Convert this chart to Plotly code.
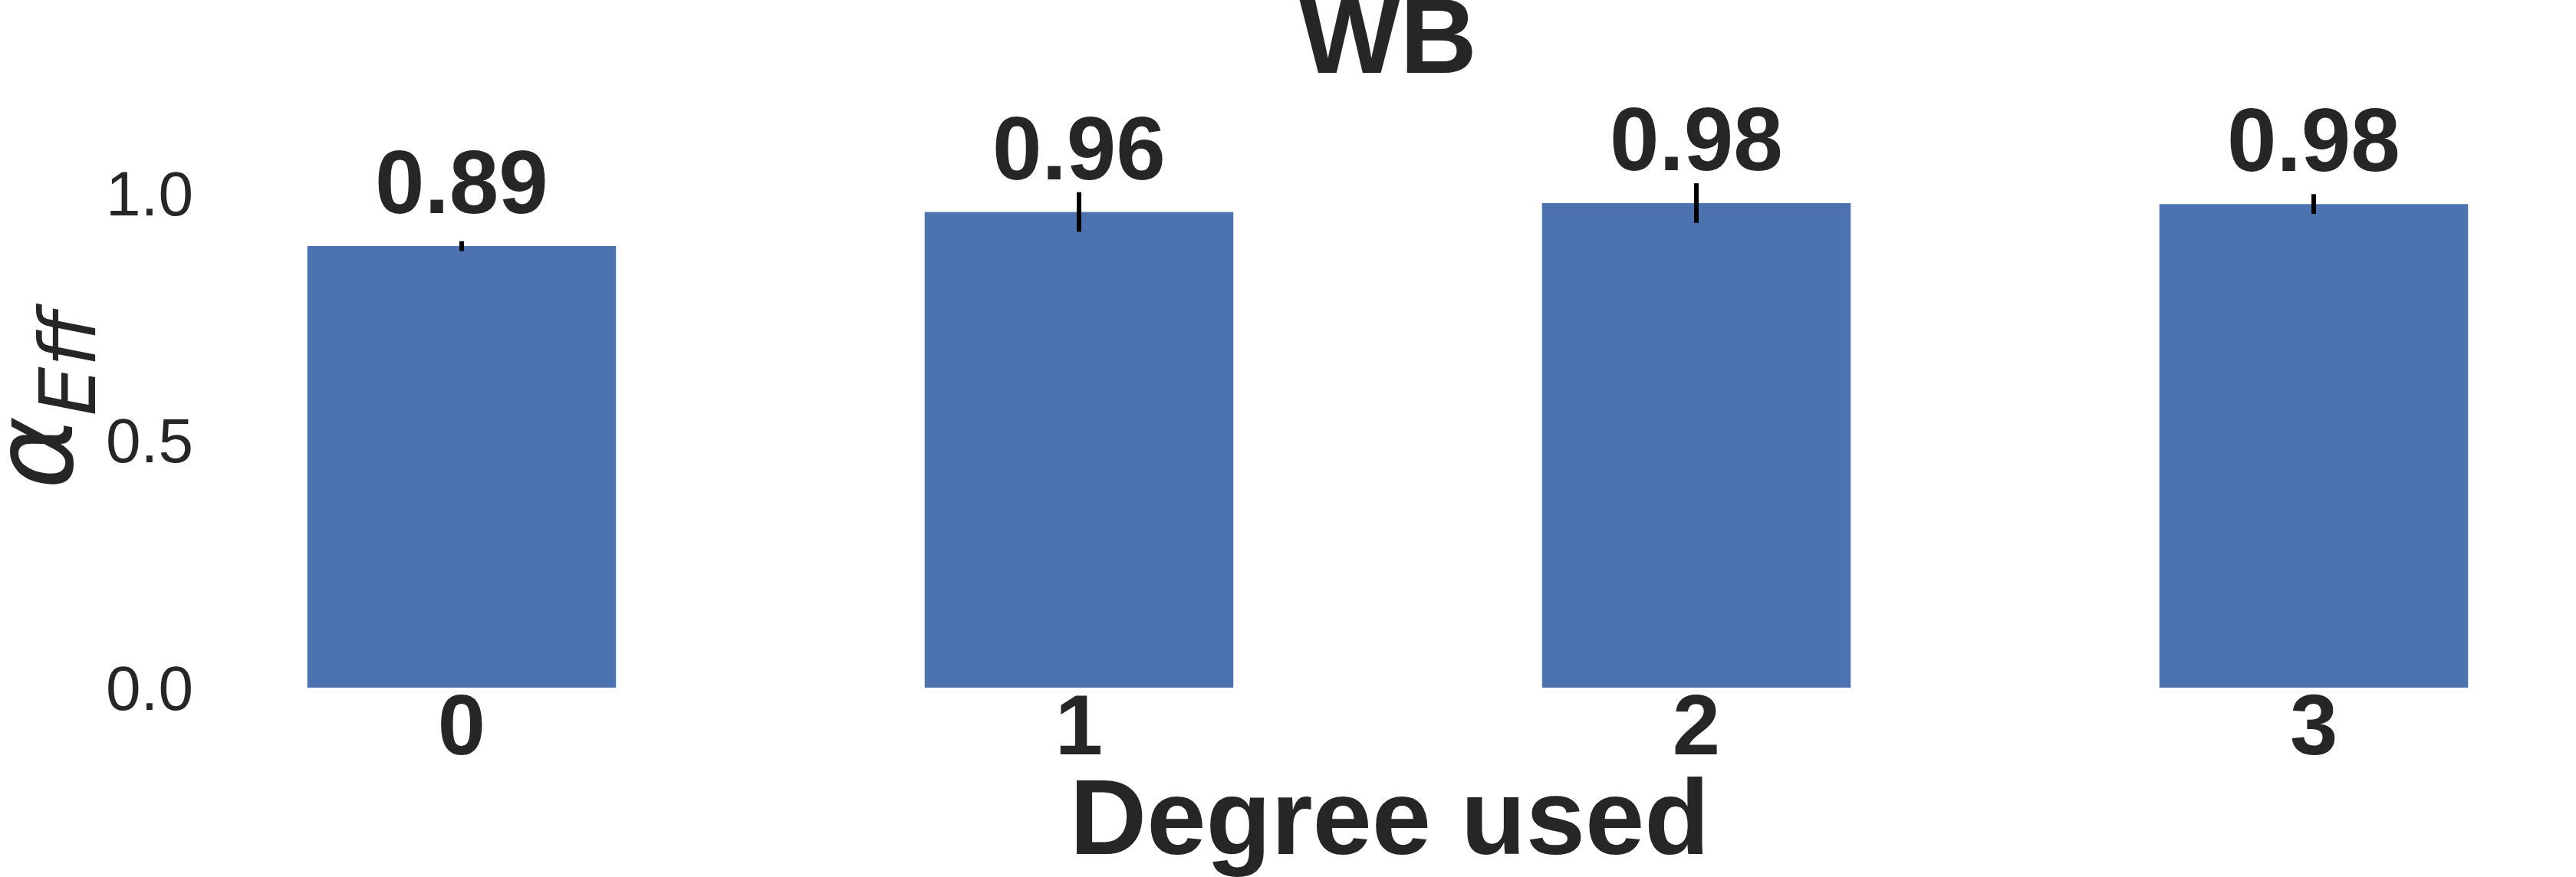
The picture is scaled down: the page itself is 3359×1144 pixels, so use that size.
import plotly.graph_objects as go

# ---- data ----
degrees = ["0", "1", "2", "3"]
alpha_eff = [0.893, 0.962, 0.980, 0.978]
alpha_err = [0.010, 0.040, 0.040, 0.020]
value_labels = ["0.89", "0.96", "0.98", "0.98"]
y_ticks = [0.0, 0.5, 1.0]
y_tick_labels = ["0.0", "0.5", "1.0"]

title_text = "WB"
x_title = "Degree used"
y_title = "<i>α</i><sub><i>Eff</i></sub>"

BAR_COLOR = "#4C72B0"
TEXT = "#262626"
FONT = "Arial, 'Liberation Sans', sans-serif"

fig = go.Figure()
fig.add_trace(go.Bar(
    x=degrees, y=alpha_eff,
    marker=dict(color=BAR_COLOR, line=dict(width=0)),
    width=0.5,
    error_y=dict(type="data", array=alpha_err, color="black", thickness=6, width=0),
    hoverinfo="skip",
))

for x, y, t in zip(degrees, alpha_eff, value_labels):
    fig.add_annotation(
        x=x, y=y, xref="x", yref="y", text=f"<b>{t}</b>", showarrow=False,
        yanchor="bottom", xanchor="center", yshift=16,
        font=dict(family=FONT, size=116, color=TEXT),
    )

fig.add_annotation(
    x=-0.0685, y=0.545, xref="paper", yref="paper", text=y_title, showarrow=False,
    textangle=-90, xanchor="center", yanchor="middle",
    font=dict(family="DejaVu Sans", size=145, color=TEXT),
)

fig.update_layout(
    width=3359, height=1144,
    margin=dict(l=265, r=0, t=200, b=247, pad=0),
    paper_bgcolor="white", plot_bgcolor="white",
    showlegend=False,
    title=dict(text=f"<b>{title_text}</b>", x=0.4994, xref="paper", xanchor="center",
               y=0.9593, yref="container", yanchor="middle",
               font=dict(family=FONT, size=139, color=TEXT)),
    bargap=0.5,
)
fig.update_xaxes(
    type="category", range=[-0.4186, 3.4248], automargin=False,
    showgrid=False, zeroline=False, showline=False, ticks="",
    tickfont=dict(family=FONT, size=112, color=TEXT, weight="bold"),
    ticklabelstandoff=-26,
    title=dict(text=f"<b>{x_title}</b>", font=dict(family=FONT, size=139, color=TEXT), standoff=0),
)
fig.update_yaxes(
    range=[0, 1.0806], tickvals=y_ticks, ticktext=y_tick_labels, automargin=False,
    showgrid=False, zeroline=False, showline=False, ticks="",
    tickfont=dict(family=FONT, size=82, color=TEXT),
    ticklabelstandoff=12,
)

fig.write_html("out.html", config={"displayModeBar": False},
               post_script="document.body.style.margin='0';")
